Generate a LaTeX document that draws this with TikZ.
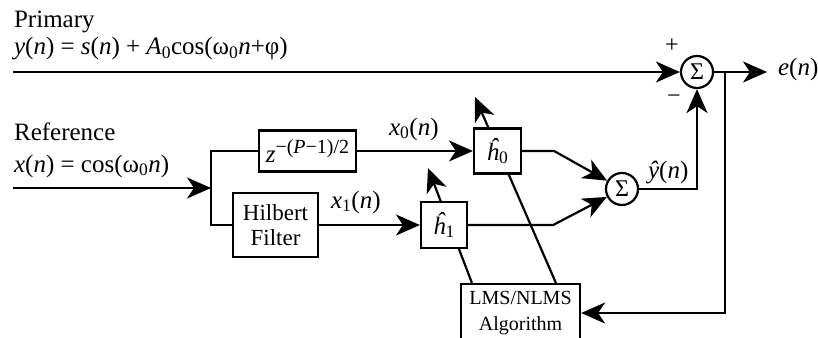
\documentclass[tikz,border=0pt]{standalone}
\usepackage{fontspec}
\setmainfont{Liberation Serif}
\usetikzlibrary{arrows.meta, calc}

\begin{document}
\begin{tikzpicture}[x=1pt, y=-1pt, line width=2.2pt, >={Stealth[length=24pt, width=21pt, inset=7pt]},
    every node/.append style={font=\fontsize{25}{27}\selectfont},
    lbl/.style={anchor=base west, inner sep=0pt},
    block/.style={draw, fill=white, inner sep=0pt, align=center},
    summer/.style={draw, circle, fill=white, inner sep=0pt, minimum size=32pt, font=\fontsize{24}{24}\selectfont}]
    \useasboundingbox (0,0) rectangle (818,337);
    \clip (0,0) rectangle (818,337);

    % Input signals
    \node[lbl] (primary) at (13,28) {Primary};
    \node[lbl] (yeq) at (13,55) {\textit{y}(\textit{n}) = \textit{s}(\textit{n}) + \textit{A}\textsubscript{0}cos(ω\textsubscript{0}\textit{n}+φ)};
    \node[lbl] (reference) at (13,140) {Reference};
    \node[lbl] (xeq) at (13,172) {\textit{x}(\textit{n}) = cos(ω\textsubscript{0}\textit{n})};

    % Adaptation block and weight update arrows (under the filters)
    \node[block, minimum width=119pt, minimum height=58pt, font=\fontsize{20}{26}\selectfont] (lms) at (520.5,313)
        {LMS/NLMS\\Algorithm};
    \coordinate (tip0) at (475,97);
    \coordinate (tip1) at (428,168);
    \draw[->] ($(lms.north west)+(12,0)$) -- (tip1);
    \draw[->] ($(lms.north west)+(96,0)$) -- (tip0);

    % Blocks
    \node[block, minimum width=97pt, minimum height=41pt] (delay) at (307.5,151)
        {\textit{z}\raisebox{9pt}{\fontsize{20}{20}\selectfont −(\textit{P}−1)/2}};
    \node[block, minimum width=85pt, minimum height=64pt, font=\fontsize{23}{25}\selectfont] (hilbert) at (275.5,225)
        {Hilbert\\Filter};
    \node[block, minimum width=47pt, minimum height=45pt] (h0) at (497.5,151) {\textit{ĥ}\textsubscript{0}};
    \node[block, minimum width=46pt, minimum height=46pt] (h1) at (444,225) {\textit{ĥ}\textsubscript{1}};
    \node[summer] (sum1) at (697,72) {Σ};
    \node[summer] (sum2) at (622,189) {Σ};

    % Signs and labels
    \node[font=\fontsize{24}{24}\selectfont, inner sep=0pt] (plus) at (672,46) {+};
    \node[font=\fontsize{24}{24}\selectfont, inner sep=0pt] (minus) at (674,99) {−};
    \node[lbl] (x0lbl) at (388,135) {\textit{x}\textsubscript{0}(\textit{n})};
    \node[lbl] (x1lbl) at (330,208) {\textit{x}\textsubscript{1}(\textit{n})};
    \node[lbl] (yhat) at (647,178) {\textit{ŷ}(\textit{n})};
    \node[lbl] (en) at (777,75) {\textit{e}(\textit{n})};

    \coordinate (pin) at (13,72);
    \coordinate (rin) at (13,188);
    \coordinate (split) at (211,188);
    \coordinate (eout) at (767,72);
    \coordinate (tap) at (725,72);

    % Primary path and error output
    \draw[->] (pin) -- (sum1.west);
    \draw[->] (sum1.east) -- (eout);
    \draw[->] (tap) |- (lms.east);

    % Reference path
    \draw[->] (rin) -- (split);
    \draw (delay.west) -| (split) |- (hilbert.west);
    \draw[->] (delay.east) -- (h0.west);
    \draw[->] (hilbert.east) -- (h1.west);
    \draw[->] (h0.east) -- ++(32,0) -- (sum2);
    \draw[->] (h1.east) -- ++(85,0) -- (sum2);
    \draw[->] (sum2.east) -| (sum1.south);
\end{tikzpicture}
\end{document}
